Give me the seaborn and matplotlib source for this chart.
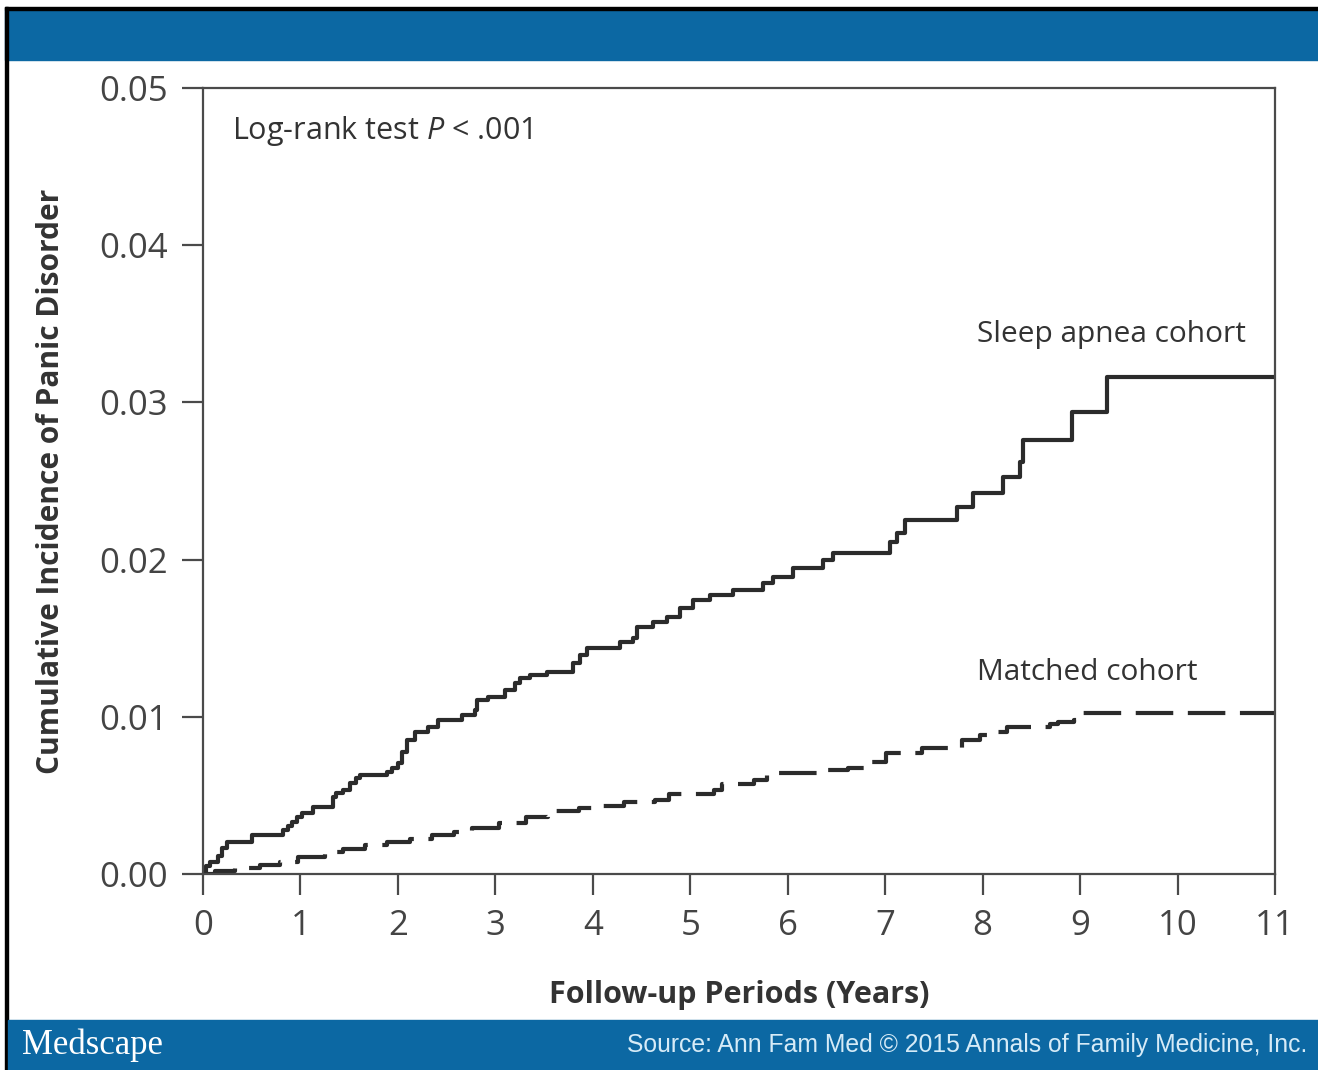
import matplotlib
matplotlib.use("Agg")
import matplotlib.pyplot as plt
import seaborn as sns
import pandas as pd
from matplotlib.patches import Rectangle

# step curves (years, cumulative incidence)
sleep_years = [0.0, 0.031, 0.072, 0.154, 0.195, 0.246, 0.503, 0.821, 0.872, 0.913,
               0.965, 1.016, 1.129, 1.334, 1.365, 1.437, 1.508, 1.570, 1.611, 1.888,
               1.939, 2.001, 2.042, 2.093, 2.175, 2.309, 2.412, 2.658, 2.791, 2.812,
               2.925, 3.099, 3.202, 3.253, 3.356, 3.530, 3.797, 3.869, 3.941, 4.279,
               4.412, 4.453, 4.618, 4.761, 4.895, 5.028, 5.203, 5.439, 5.747, 5.849,
               6.054, 6.362, 6.465, 7.050, 7.122, 7.204, 7.737, 7.902, 8.209, 8.384,
               8.415, 8.918, 9.277, 11.0]
sleep_incidence = [0.0, 0.00051, 0.00076, 0.00115, 0.00165, 0.00204, 0.00248, 0.00280,
                   0.00305, 0.00331, 0.00363, 0.00388, 0.00426, 0.00490, 0.00515, 0.00534,
                   0.00579, 0.00611, 0.00630, 0.00649, 0.00674, 0.00706, 0.00776, 0.00852,
                   0.00903, 0.00935, 0.00980, 0.01011, 0.01043, 0.01107, 0.01126, 0.01170,
                   0.01215, 0.01247, 0.01266, 0.01285, 0.01342, 0.01393, 0.01438, 0.01476,
                   0.01501, 0.01571, 0.01603, 0.01635, 0.01692, 0.01743, 0.01775, 0.01807,
                   0.01851, 0.01889, 0.01947, 0.01997, 0.02042, 0.02112, 0.02169, 0.02252,
                   0.02335, 0.02424, 0.02525, 0.02621, 0.02761, 0.02939, 0.03162, 0.03162]

matched_years = [0.0, 0.123, 0.328, 0.585, 0.790, 0.975, 1.252, 1.437, 1.662, 1.888,
                 2.124, 2.350, 2.576, 2.760, 3.037, 3.315, 3.540, 3.858, 4.074, 4.320,
                 4.638, 4.782, 5.244, 5.326, 5.654, 5.788, 6.373, 6.619, 6.824, 7.009,
                 7.378, 7.789, 7.973, 8.107, 8.250, 8.692, 8.774, 8.938, 9.030, 11.0]
matched_incidence = [0.0, 0.00019, 0.00038, 0.00057, 0.00076, 0.00108, 0.00140, 0.00159,
                     0.00184, 0.00204, 0.00223, 0.00248, 0.00267, 0.00293, 0.00324, 0.00363,
                     0.00401, 0.00420, 0.00433, 0.00458, 0.00471, 0.00509, 0.00534, 0.00573,
                     0.00598, 0.00642, 0.00662, 0.00674, 0.00712, 0.00770, 0.00802, 0.00852,
                     0.00884, 0.00903, 0.00935, 0.00954, 0.00967, 0.00980, 0.01024, 0.01024]

x_ticks = list(range(12))
y_ticks = [0.00, 0.01, 0.02, 0.03, 0.04, 0.05]
y_tick_labels = ["0.00", "0.01", "0.02", "0.03", "0.04", "0.05"]

sleep_df = pd.DataFrame({"years": sleep_years, "incidence": sleep_incidence})
matched_df = pd.DataFrame({"years": matched_years, "incidence": matched_incidence})

sns.set_style("ticks")
plt.rcParams["font.family"] = ["Open Sans", "DejaVu Sans"]
plt.rcParams["mathtext.fontset"] = "custom"
plt.rcParams["mathtext.it"] = "Open Sans:italic"
plt.rcParams["mathtext.rm"] = "Open Sans"

fig = plt.figure(figsize=(13.18, 10.70), dpi=100)
ax = fig.add_axes([0.1540, 0.1832, 0.8134, 0.7346])

line_color = "#2b2b2b"
sns.lineplot(data=sleep_df, x="years", y="incidence", ax=ax, estimator=None,
             drawstyle="steps-post", color=line_color, linewidth=3.0)
sns.lineplot(data=matched_df, x="years", y="incidence", ax=ax, estimator=None,
             drawstyle="steps-post", color=line_color, linewidth=3.0,
             linestyle=(0, (9, 3.5)))

ax.set_xlim(0, 11)
ax.set_ylim(0, 0.05)
ax.set_xticks(x_ticks)
ax.set_xticklabels([str(t) for t in x_ticks])
ax.set_yticks(y_ticks)
ax.set_yticklabels(y_tick_labels)

spine_color = "#4a4a4a"
for side in ["left", "right", "top", "bottom"]:
    ax.spines[side].set_visible(True)
    ax.spines[side].set_color(spine_color)
    ax.spines[side].set_linewidth(1.6)
ax.tick_params(axis="both", direction="out", length=15, width=1.6, color=spine_color,
               labelsize=25, labelcolor="#444444", pad=10)

ax.set_xlabel("Follow-up Periods (Years)", fontsize=22, fontweight="bold",
              color="#333333", labelpad=27)
ax.set_ylabel("Cumulative Incidence of Panic Disorder", fontsize=21.5, fontweight="bold",
              color="#333333", labelpad=24)

ax.text(0.30, 0.04725, "Log-rank test $P$ < .001", fontsize=22, color="#333333",
        va="center", ha="left")
ax.text(7.94, 0.03430, "Sleep apnea cohort", fontsize=21.5, color="#333333",
        va="center", ha="left")
ax.text(7.94, 0.01280, "Matched cohort", fontsize=21.5, color="#333333",
        va="center", ha="left")

# Medscape header / footer bands
blue = "#0c68a3"
fig.add_artist(Rectangle((0.0038, 0.9439), 1.0, 0.0467, transform=fig.transFigure,
                         color=blue, zorder=0))
fig.add_artist(Rectangle((0.0038, 0.9907), 1.0, 0.0028, transform=fig.transFigure,
                         color="black", zorder=0))
fig.add_artist(Rectangle((0.0038, 0.0), 0.0023, 0.9935, transform=fig.transFigure,
                         color="black", zorder=0))
fig.add_artist(Rectangle((0.0061, 0.0), 1.0, 0.0467, transform=fig.transFigure,
                         color=blue, zorder=0))

fig.text(0.017, 0.0234, "Medscape", family="Liberation Serif", fontsize=25,
         color="white", va="center", ha="left")
fig.text(0.992, 0.0234, "Source: Ann Fam Med \u00a9 2015 Annals of Family Medicine, Inc.",
         family="Liberation Sans", fontsize=17.8, color="#d6ebf7", va="center", ha="right")

fig.savefig("out.png", dpi=100)
